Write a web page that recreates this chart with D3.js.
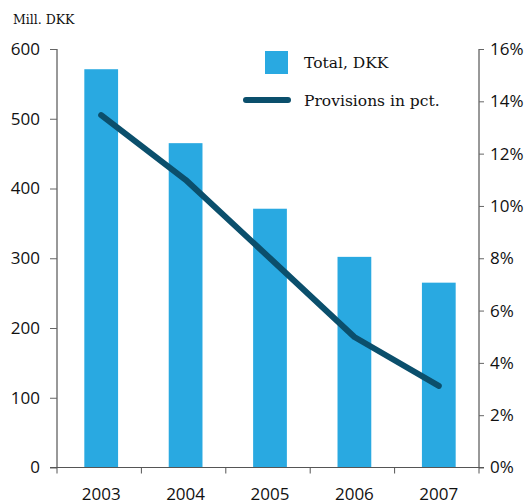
<!DOCTYPE html>
<html>
<head>
<meta charset="utf-8">
<title>Provisions</title>
<style>
  body { margin: 0; background: #fff; }
  svg { display: block; }
  .tick text { font-family: 'Open Sans', sans-serif; font-size: 17px; fill: #111; }
  .serif { font-family: 'DejaVu Serif', serif; fill: #111; }
</style>
</head>
<body>
<div id="chart"></div>
<script src="https://d3js.org/d3.v7.min.js"></script>
<script>
var years      = ["2003", "2004", "2005", "2006", "2007"];
var totalDKK   = [571, 465, 371, 302, 265];
var provisions = [13.47, 11.0, 8.0, 4.99, 3.12];
var leftTicks  = [0, 100, 200, 300, 400, 500, 600];
var rightTicks = [0, 2, 4, 6, 8, 10, 12, 14, 16];

var width = 528, height = 501,
    plotLeft = 57, plotRight = 479, plotTop = 49, plotBottom = 467.5;

var svg = d3.select("#chart").append("svg")
    .attr("width", width)
    .attr("height", height);

var x = d3.scaleBand().domain(years).range([plotLeft, plotRight]).paddingInner(0.6).paddingOuter(0.3);
var y = d3.scaleLinear().domain([0, 600]).range([plotBottom, plotTop]);
var y2 = d3.scaleLinear().domain([0, 16]).range([plotBottom, plotTop]);

// bars
svg.append("g")
  .selectAll("rect")
  .data(years)
  .enter().append("rect")
    .attr("x", function(d){ return x(d) + 2; })
    .attr("y", function(d, i){ return y(totalDKK[i]); })
    .attr("width", x.bandwidth())
    .attr("height", function(d, i){ return plotBottom - y(totalDKK[i]); })
    .attr("fill", "#29a9e1");

// left axis
var yAxis = svg.append("g")
    .attr("transform", "translate(" + plotLeft + ",0)")
    .call(d3.axisLeft(y).tickValues(leftTicks).tickSize(7).tickPadding(10));

// right axis
var y2Axis = svg.append("g")
    .attr("transform", "translate(" + plotRight + ",0)")
    .call(d3.axisRight(y2).tickValues(rightTicks).tickSize(5).tickPadding(6)
          .tickFormat(function(d){ return d + "%"; }));

// x axis with ticks between categories
var xAxis = svg.append("g").attr("transform", "translate(0," + plotBottom + ")");
xAxis.append("line").attr("x1", plotLeft - 7).attr("x2", plotRight + 5).attr("stroke", "#555");
var step = (plotRight - plotLeft) / years.length;
xAxis.selectAll(".sep")
  .data(d3.range(years.length + 1))
  .enter().append("line")
    .attr("x1", function(i){ return plotLeft + i * step; })
    .attr("x2", function(i){ return plotLeft + i * step; })
    .attr("y1", 0).attr("y2", 6)
    .attr("stroke", "#555");
xAxis.selectAll("text")
  .data(years)
  .enter().append("text")
    .attr("x", function(d){ return x(d) + 2 + x.bandwidth() / 2; })
    .attr("y", 32)
    .attr("text-anchor", "middle")
    .style("font-family", "'Open Sans', sans-serif")
    .style("font-size", "17px")
    .attr("fill", "#111")
    .text(function(d){ return d; });

[yAxis, y2Axis].forEach(function(a){
  a.select(".domain").attr("stroke", "#333").attr("d", "M0," + plotTop + "V" + plotBottom);
  a.selectAll(".tick line").attr("stroke", "#666");
});

// provisions line
var line = d3.line()
    .x(function(d, i){ return x(years[i]) + 2 + x.bandwidth() / 2; })
    .y(function(d){ return y2(d); });

svg.append("path")
    .datum(provisions)
    .attr("d", line)
    .attr("fill", "none")
    .attr("stroke", "#0b4f6c")
    .attr("stroke-width", 6)
    .attr("stroke-linecap", "round")
    .attr("stroke-linejoin", "round");

// unit label
svg.append("text").attr("class", "serif")
    .attr("x", 13).attr("y", 24)
    .style("font-size", "12.5px")
    .text("Mill. DKK");

// legend
var lg = svg.append("g");
lg.append("rect").attr("x", 265).attr("y", 51).attr("width", 23).attr("height", 23).attr("fill", "#29a9e1");
lg.append("line").attr("x1", 246).attr("x2", 288).attr("y1", 100).attr("y2", 100)
    .attr("stroke", "#0b4f6c").attr("stroke-width", 6).attr("stroke-linecap", "round");
lg.append("text").attr("class", "serif").attr("x", 304).attr("y", 68)
    .style("font-size", "15.5px").text("Total, DKK");
lg.append("text").attr("class", "serif").attr("x", 304).attr("y", 106)
    .style("font-size", "15.5px").text("Provisions in pct.");
</script>
</body>
</html>
